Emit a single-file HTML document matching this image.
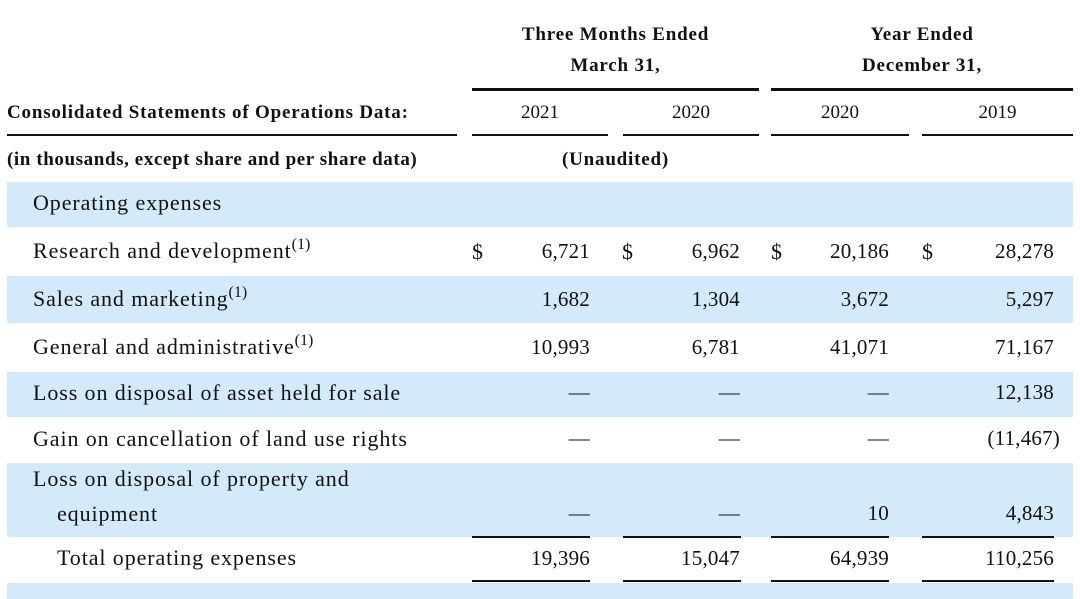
<!DOCTYPE html>
<html><head><meta charset="utf-8"><style>
body{margin:0;width:1080px;height:599px;background:#fff;position:relative;overflow:hidden;font-family:"Liberation Serif",serif;color:#111}
.a{position:absolute;white-space:nowrap}
.b{position:absolute;left:7px;width:1066px;background:#d3eafb}
.l{position:absolute;background:#111}
.h{font-size:19px;font-weight:bold;letter-spacing:0.8px}
.y{font-size:19px}
.t{font-size:22px;letter-spacing:0.9px}
.n{font-size:21px;text-align:right;width:140px;letter-spacing:0.2px}
.c{text-align:center}
sup{font-size:16px;vertical-align:9px;line-height:0;letter-spacing:0}
</style></head><body>
<div class="b" style="top:182px;height:45px"></div>
<div class="b" style="top:276px;height:47px"></div>
<div class="b" style="top:372px;height:45px"></div>
<div class="b" style="top:463px;height:74px"></div>
<div class="b" style="top:583px;height:16px"></div>

<div class="a h c" style="left:472px;width:287px;top:24px">Three Months Ended</div>
<div class="a h c" style="left:472px;width:287px;top:55px">March 31,</div>
<div class="a h c" style="left:771px;width:302px;top:24px">Year Ended</div>
<div class="a h c" style="left:771px;width:302px;top:55px">December 31,</div>
<div class="l" style="left:472px;width:287px;top:88px;height:3px"></div>
<div class="l" style="left:771px;width:302px;top:88px;height:3px"></div>

<div class="a h" style="left:7px;top:102px">Consolidated Statements of Operations Data:</div>
<div class="a y c" style="left:472px;width:136px;top:102px">2021</div>
<div class="a y c" style="left:623px;width:136px;top:102px">2020</div>
<div class="a y c" style="left:771px;width:138px;top:102px">2020</div>
<div class="a y c" style="left:922px;width:151px;top:102px">2019</div>
<div class="l" style="left:7px;width:450px;top:134px;height:2px"></div>
<div class="l" style="left:472px;width:136px;top:134px;height:2px"></div>
<div class="l" style="left:623px;width:136px;top:134px;height:2px"></div>
<div class="l" style="left:771px;width:138px;top:134px;height:2px"></div>
<div class="l" style="left:922px;width:151px;top:134px;height:2px"></div>

<div class="a h" style="left:7px;top:149px;letter-spacing:0.6px">(in thousands, except share and per share data)</div>
<div class="a h c" style="left:472px;width:287px;top:149px">(Unaudited)</div>

<div class="a t" style="left:33px;top:190px">Operating expenses</div>

<div class="a t" style="left:33px;top:238px">Research and development<sup>(1)</sup></div>
<div class="a t" style="left:472px;top:239px">$</div>
<div class="a t" style="left:622px;top:239px">$</div>
<div class="a t" style="left:771px;top:239px">$</div>
<div class="a t" style="left:922px;top:239px">$</div>
<div class="a n" style="left:450px;top:239px">6,721</div>
<div class="a n" style="left:600px;top:239px">6,962</div>
<div class="a n" style="left:749px;top:239px">20,186</div>
<div class="a n" style="left:914px;top:239px">28,278</div>

<div class="a t" style="left:33px;top:286px">Sales and marketing<sup>(1)</sup></div>
<div class="a n" style="left:450px;top:287px">1,682</div>
<div class="a n" style="left:600px;top:287px">1,304</div>
<div class="a n" style="left:749px;top:287px">3,672</div>
<div class="a n" style="left:914px;top:287px">5,297</div>

<div class="a t" style="left:33px;top:334px">General and administrative<sup>(1)</sup></div>
<div class="a n" style="left:450px;top:335px">10,993</div>
<div class="a n" style="left:600px;top:335px">6,781</div>
<div class="a n" style="left:749px;top:335px">41,071</div>
<div class="a n" style="left:914px;top:335px">71,167</div>

<div class="a t" style="left:33px;top:380px">Loss on disposal of asset held for sale</div>
<div class="a n" style="left:450px;top:380px">—</div>
<div class="a n" style="left:600px;top:380px">—</div>
<div class="a n" style="left:749px;top:380px">—</div>
<div class="a n" style="left:914px;top:380px">12,138</div>

<div class="a t" style="left:33px;top:426px">Gain on cancellation of land use rights</div>
<div class="a n" style="left:450px;top:426px">—</div>
<div class="a n" style="left:600px;top:426px">—</div>
<div class="a n" style="left:749px;top:426px">—</div>
<div class="a n" style="left:920px;top:426px">(11,467)</div>

<div class="a t" style="left:33px;top:466px">Loss on disposal of property and</div>
<div class="a t" style="left:57px;top:501px">equipment</div>
<div class="a n" style="left:450px;top:501px">—</div>
<div class="a n" style="left:600px;top:501px">—</div>
<div class="a n" style="left:749px;top:501px">10</div>
<div class="a n" style="left:914px;top:501px">4,843</div>

<div class="l" style="left:472px;width:118px;top:536px;height:2px"></div>
<div class="l" style="left:623px;width:118px;top:536px;height:2px"></div>
<div class="l" style="left:771px;width:118px;top:536px;height:2px"></div>
<div class="l" style="left:922px;width:132px;top:536px;height:2px"></div>

<div class="a t" style="left:57px;top:545px">Total operating expenses</div>
<div class="a n" style="left:450px;top:546px">19,396</div>
<div class="a n" style="left:600px;top:546px">15,047</div>
<div class="a n" style="left:749px;top:546px">64,939</div>
<div class="a n" style="left:914px;top:546px">110,256</div>

<div class="l" style="left:472px;width:118px;top:580px;height:2px"></div>
<div class="l" style="left:623px;width:118px;top:580px;height:2px"></div>
<div class="l" style="left:771px;width:118px;top:580px;height:2px"></div>
<div class="l" style="left:922px;width:132px;top:580px;height:2px"></div>
</body></html>
